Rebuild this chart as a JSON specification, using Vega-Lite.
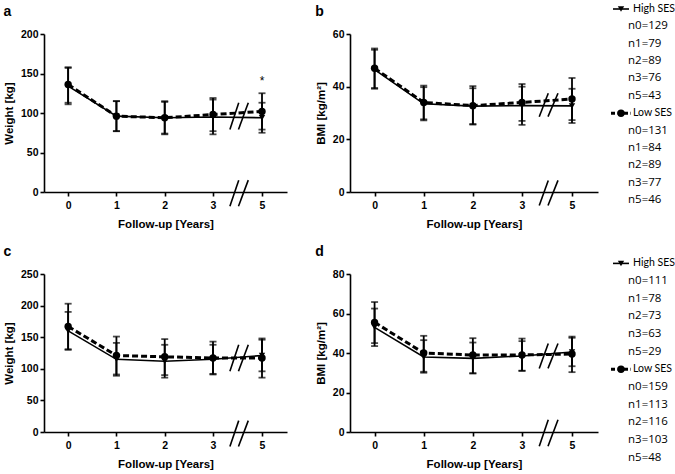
{
 "$schema": "https://vega.github.io/schema/vega-lite/v6.json",
 "background": "white",
 "padding": {"left": 3, "top": 3, "right": 0, "bottom": 0},
 "spacing": 15,
 "datasets": {
  "main": [
   {"panel":"a","ses":"High SES","year":0,"mean":134,"lo":111,"hi":157},
   {"panel":"a","ses":"High SES","year":1,"mean":96,"lo":77,"hi":115},
   {"panel":"a","ses":"High SES","year":2,"mean":94,"lo":73,"hi":115},
   {"panel":"a","ses":"High SES","year":3,"mean":95,"lo":73,"hi":117},
   {"panel":"a","ses":"High SES","year":5,"mean":94,"lo":75,"hi":113},
   {"panel":"a","ses":"Low SES","year":0,"mean":136,"lo":113,"hi":158},
   {"panel":"a","ses":"Low SES","year":1,"mean":96,"lo":77,"hi":115},
   {"panel":"a","ses":"Low SES","year":2,"mean":94,"lo":74,"hi":114},
   {"panel":"a","ses":"Low SES","year":3,"mean":98,"lo":77,"hi":119},
   {"panel":"a","ses":"Low SES","year":5,"mean":102,"lo":79,"hi":125},
   {"panel":"b","ses":"High SES","year":0,"mean":46.5,"lo":39.2,"hi":54},
   {"panel":"b","ses":"High SES","year":1,"mean":33.5,"lo":27.2,"hi":39.8},
   {"panel":"b","ses":"High SES","year":2,"mean":32.6,"lo":25.8,"hi":39.4},
   {"panel":"b","ses":"High SES","year":3,"mean":32.8,"lo":27,"hi":40},
   {"panel":"b","ses":"High SES","year":5,"mean":32.7,"lo":26.2,"hi":39.2},
   {"panel":"b","ses":"Low SES","year":0,"mean":47,"lo":39.5,"hi":54.5},
   {"panel":"b","ses":"Low SES","year":1,"mean":34,"lo":27.6,"hi":40.4},
   {"panel":"b","ses":"Low SES","year":2,"mean":32.8,"lo":25.6,"hi":40.2},
   {"panel":"b","ses":"Low SES","year":3,"mean":34,"lo":25.5,"hi":41},
   {"panel":"b","ses":"Low SES","year":5,"mean":35.3,"lo":27.3,"hi":43.3},
   {"panel":"c","ses":"High SES","year":0,"mean":160,"lo":130,"hi":190},
   {"panel":"c","ses":"High SES","year":1,"mean":115,"lo":89,"hi":141},
   {"panel":"c","ses":"High SES","year":2,"mean":112,"lo":86,"hi":138},
   {"panel":"c","ses":"High SES","year":3,"mean":115,"lo":92,"hi":138},
   {"panel":"c","ses":"High SES","year":5,"mean":121,"lo":96,"hi":146},
   {"panel":"c","ses":"Low SES","year":0,"mean":167,"lo":131,"hi":203},
   {"panel":"c","ses":"Low SES","year":1,"mean":121,"lo":91,"hi":151},
   {"panel":"c","ses":"Low SES","year":2,"mean":119,"lo":90,"hi":147},
   {"panel":"c","ses":"Low SES","year":3,"mean":117,"lo":91,"hi":143},
   {"panel":"c","ses":"Low SES","year":5,"mean":117,"lo":86,"hi":148},
   {"panel":"d","ses":"High SES","year":0,"mean":53,"lo":43.5,"hi":62.5},
   {"panel":"d","ses":"High SES","year":1,"mean":38,"lo":30,"hi":46.5},
   {"panel":"d","ses":"High SES","year":2,"mean":37.3,"lo":29.7,"hi":45.3},
   {"panel":"d","ses":"High SES","year":3,"mean":38.5,"lo":31,"hi":46},
   {"panel":"d","ses":"High SES","year":5,"mean":40.5,"lo":33.3,"hi":47.7},
   {"panel":"d","ses":"Low SES","year":0,"mean":55.5,"lo":45,"hi":65.8},
   {"panel":"d","ses":"Low SES","year":1,"mean":40,"lo":30.5,"hi":48.7},
   {"panel":"d","ses":"Low SES","year":2,"mean":39,"lo":29.7,"hi":47.5},
   {"panel":"d","ses":"Low SES","year":3,"mean":39,"lo":31,"hi":47.3},
   {"panel":"d","ses":"Low SES","year":5,"mean":39.5,"lo":30.3,"hi":48.3}
  ],
  "breaks": [
   {"panel":"a","x0":3.69,"x1":4.05,"y0":79,"y1":113},
   {"panel":"a","x0":4.04,"x1":4.44,"y0":79,"y1":113},
   {"panel":"a","x0":3.69,"x1":4.05,"y0":-18,"y1":15},
   {"panel":"a","x0":4.04,"x1":4.44,"y0":-18,"y1":15},
   {"panel":"b","x0":3.69,"x1":4.05,"y0":28.6,"y1":37.5},
   {"panel":"b","x0":4.04,"x1":4.44,"y0":28.6,"y1":37.5},
   {"panel":"b","x0":3.69,"x1":4.05,"y0":-5.1,"y1":4.4},
   {"panel":"b","x0":4.04,"x1":4.44,"y0":-5.1,"y1":4.4},
   {"panel":"c","x0":3.69,"x1":4.05,"y0":96,"y1":138},
   {"panel":"c","x0":4.04,"x1":4.44,"y0":96,"y1":138},
   {"panel":"c","x0":3.69,"x1":4.05,"y0":-23,"y1":18},
   {"panel":"c","x0":4.04,"x1":4.44,"y0":-23,"y1":18},
   {"panel":"d","x0":3.69,"x1":4.05,"y0":32.2,"y1":44.8},
   {"panel":"d","x0":4.04,"x1":4.44,"y0":32.2,"y1":44.8},
   {"panel":"d","x0":3.69,"x1":4.05,"y0":-7.2,"y1":6.2},
   {"panel":"d","x0":4.04,"x1":4.44,"y0":-7.2,"y1":6.2}
  ],
  "annot": [
   {"panel":"a","year":5,"value":141,"text":"*"}
  ],
  "legend": [
   {"block":"top","row":0,"kind":"header","ses":"High SES","text":"High SES"},
   {"block":"top","row":1,"kind":"count","ses":"High SES","text":"n0=129"},
   {"block":"top","row":2,"kind":"count","ses":"High SES","text":"n1=79"},
   {"block":"top","row":3,"kind":"count","ses":"High SES","text":"n2=89"},
   {"block":"top","row":4,"kind":"count","ses":"High SES","text":"n3=76"},
   {"block":"top","row":5,"kind":"count","ses":"High SES","text":"n5=43"},
   {"block":"top","row":6,"kind":"header","ses":"Low SES","text":"Low SES"},
   {"block":"top","row":7,"kind":"count","ses":"Low SES","text":"n0=131"},
   {"block":"top","row":8,"kind":"count","ses":"Low SES","text":"n1=84"},
   {"block":"top","row":9,"kind":"count","ses":"Low SES","text":"n2=89"},
   {"block":"top","row":10,"kind":"count","ses":"Low SES","text":"n3=77"},
   {"block":"top","row":11,"kind":"count","ses":"Low SES","text":"n5=46"},
   {"block":"bottom","row":0,"kind":"header","ses":"High SES","text":"High SES"},
   {"block":"bottom","row":1,"kind":"count","ses":"High SES","text":"n0=111"},
   {"block":"bottom","row":2,"kind":"count","ses":"High SES","text":"n1=78"},
   {"block":"bottom","row":3,"kind":"count","ses":"High SES","text":"n2=73"},
   {"block":"bottom","row":4,"kind":"count","ses":"High SES","text":"n3=63"},
   {"block":"bottom","row":5,"kind":"count","ses":"High SES","text":"n5=29"},
   {"block":"bottom","row":6,"kind":"header","ses":"Low SES","text":"Low SES"},
   {"block":"bottom","row":7,"kind":"count","ses":"Low SES","text":"n0=159"},
   {"block":"bottom","row":8,"kind":"count","ses":"Low SES","text":"n1=113"},
   {"block":"bottom","row":9,"kind":"count","ses":"Low SES","text":"n2=116"},
   {"block":"bottom","row":10,"kind":"count","ses":"Low SES","text":"n3=103"},
   {"block":"bottom","row":11,"kind":"count","ses":"Low SES","text":"n5=48"}
  ]
 },
 "vconcat": [
  {"bounds": "flush", "spacing": 63, "hconcat": [
   {"width": 243, "height": 158, "title": {"text": "a"},
    "layer": [
     {"data":{"name":"main"},"transform":[{"filter":"datum.panel === 'a'"}],
      "mark":{"type":"rule","color":"#000","strokeWidth":1.8},
      "encoding":{
       "x":{"field":"year","type":"quantitative","title":"Follow-up [Years]","scale":{"domain":[-0.5,3,5,5.5],"range":[0,169,218,243],"nice":false,"zero":false},"axis":{"values":[0,1,2,3,5],"labelOverlap":false}},
       "y":{"field":"lo","type":"quantitative","title":"Weight [kg]","scale":{"domain":[0,200],"nice":false},"axis":{"values":[0,50,100,150,200],"labelOverlap":false,"tickCount":5}},
       "y2":{"field":"hi"}}},
     {"data":{"name":"main"},"transform":[{"filter":"datum.panel === 'a'"}],
      "mark":{"type":"tick","orient":"horizontal","color":"#000","size":7,"thickness":1.8},
      "encoding":{"x":{"field":"year","type":"quantitative","title":"Follow-up [Years]"},"y":{"field":"lo","type":"quantitative","title":"Weight [kg]"}}},
     {"data":{"name":"main"},"transform":[{"filter":"datum.panel === 'a'"}],
      "mark":{"type":"tick","orient":"horizontal","color":"#000","size":7,"thickness":1.8},
      "encoding":{"x":{"field":"year","type":"quantitative","title":"Follow-up [Years]"},"y":{"field":"hi","type":"quantitative","title":"Weight [kg]"}}},
     {"data":{"name":"main"},"transform":[{"filter":"datum.panel === 'a' && datum.ses === 'High SES'"}],
      "mark":{"type":"line","color":"#000","strokeWidth":1.6},
      "encoding":{"x":{"field":"year","type":"quantitative","title":"Follow-up [Years]"},"y":{"field":"mean","type":"quantitative","title":"Weight [kg]"}}},
     {"data":{"name":"main"},"transform":[{"filter":"datum.panel === 'a' && datum.ses === 'Low SES'"}],
      "mark":{"type":"line","color":"#000","strokeWidth":3,"strokeDash":[6,3]},
      "encoding":{"x":{"field":"year","type":"quantitative","title":"Follow-up [Years]"},"y":{"field":"mean","type":"quantitative","title":"Weight [kg]"}}},
     {"data":{"name":"main"},"transform":[{"filter":"datum.panel === 'a' && datum.ses === 'High SES'"}],
      "mark":{"type":"point","shape":"triangle-down","filled":true,"color":"#000","size":40,"opacity":1},
      "encoding":{"x":{"field":"year","type":"quantitative","title":"Follow-up [Years]"},"y":{"field":"mean","type":"quantitative","title":"Weight [kg]"}}},
     {"data":{"name":"main"},"transform":[{"filter":"datum.panel === 'a' && datum.ses === 'Low SES'"}],
      "mark":{"type":"point","shape":"circle","filled":true,"color":"#000","size":55,"opacity":1},
      "encoding":{"x":{"field":"year","type":"quantitative","title":"Follow-up [Years]"},"y":{"field":"mean","type":"quantitative","title":"Weight [kg]"}}},
     {"data":{"name":"breaks"},"transform":[{"filter":"datum.panel === 'a'"}],
      "mark":{"type":"rule","color":"#000","strokeWidth":1.6},
      "encoding":{"x":{"field":"x0","type":"quantitative","title":"Follow-up [Years]"},"x2":{"field":"x1"},"y":{"field":"y0","type":"quantitative","title":"Weight [kg]"},"y2":{"field":"y1"}}},
     {"data":{"name":"annot"},"transform":[{"filter":"datum.panel === 'a'"}],
      "mark":{"type":"text","fontSize":12,"font":"Liberation Sans","fill":"#000","color":"#000","baseline":"middle"},
      "encoding":{"x":{"field":"year","type":"quantitative","title":"Follow-up [Years]"},"y":{"field":"value","type":"quantitative","title":"Weight [kg]"},"text":{"field":"text"}}}
    ]},
   {"bounds": "flush", "spacing": 13, "hconcat": [
    {"width": 248, "height": 158, "title": {"text": "b"},
     "layer": [
      {"data":{"name":"main"},"transform":[{"filter":"datum.panel === 'b'"}],
       "mark":{"type":"rule","color":"#000","strokeWidth":1.8},
       "encoding":{
        "x":{"field":"year","type":"quantitative","title":"Follow-up [Years]","scale":{"domain":[-0.5,3,5,5.5],"range":[0,172,222,248],"nice":false,"zero":false},"axis":{"values":[0,1,2,3,5],"labelOverlap":false}},
        "y":{"field":"lo","type":"quantitative","title":"BMI [kg/m²]","scale":{"domain":[0,60],"nice":false},"axis":{"values":[0,20,40,60],"labelOverlap":false}},
        "y2":{"field":"hi"}}},
      {"data":{"name":"main"},"transform":[{"filter":"datum.panel === 'b'"}],
       "mark":{"type":"tick","orient":"horizontal","color":"#000","size":7,"thickness":1.8},
       "encoding":{"x":{"field":"year","type":"quantitative","title":"Follow-up [Years]"},"y":{"field":"lo","type":"quantitative","title":"BMI [kg/m²]"}}},
      {"data":{"name":"main"},"transform":[{"filter":"datum.panel === 'b'"}],
       "mark":{"type":"tick","orient":"horizontal","color":"#000","size":7,"thickness":1.8},
       "encoding":{"x":{"field":"year","type":"quantitative","title":"Follow-up [Years]"},"y":{"field":"hi","type":"quantitative","title":"BMI [kg/m²]"}}},
      {"data":{"name":"main"},"transform":[{"filter":"datum.panel === 'b' && datum.ses === 'High SES'"}],
       "mark":{"type":"line","color":"#000","strokeWidth":1.6},
       "encoding":{"x":{"field":"year","type":"quantitative","title":"Follow-up [Years]"},"y":{"field":"mean","type":"quantitative","title":"BMI [kg/m²]"}}},
      {"data":{"name":"main"},"transform":[{"filter":"datum.panel === 'b' && datum.ses === 'Low SES'"}],
       "mark":{"type":"line","color":"#000","strokeWidth":3,"strokeDash":[6,3]},
       "encoding":{"x":{"field":"year","type":"quantitative","title":"Follow-up [Years]"},"y":{"field":"mean","type":"quantitative","title":"BMI [kg/m²]"}}},
      {"data":{"name":"main"},"transform":[{"filter":"datum.panel === 'b' && datum.ses === 'High SES'"}],
       "mark":{"type":"point","shape":"triangle-down","filled":true,"color":"#000","size":40,"opacity":1},
       "encoding":{"x":{"field":"year","type":"quantitative","title":"Follow-up [Years]"},"y":{"field":"mean","type":"quantitative","title":"BMI [kg/m²]"}}},
      {"data":{"name":"main"},"transform":[{"filter":"datum.panel === 'b' && datum.ses === 'Low SES'"}],
       "mark":{"type":"point","shape":"circle","filled":true,"color":"#000","size":55,"opacity":1},
       "encoding":{"x":{"field":"year","type":"quantitative","title":"Follow-up [Years]"},"y":{"field":"mean","type":"quantitative","title":"BMI [kg/m²]"}}},
      {"data":{"name":"breaks"},"transform":[{"filter":"datum.panel === 'b'"}],
       "mark":{"type":"rule","color":"#000","strokeWidth":1.6},
       "encoding":{"x":{"field":"x0","type":"quantitative","title":"Follow-up [Years]"},"x2":{"field":"x1"},"y":{"field":"y0","type":"quantitative","title":"BMI [kg/m²]"},"y2":{"field":"y1"}}}
     ]},
    {"width": 65, "height": 158,
     "data": {"name": "legend"},
     "transform": [{"filter": "datum.block === 'top'"}],
     "encoding": {"y": {"field": "row", "type": "quantitative", "scale": {"domain": [1.44, 10.54], "reverse": true, "nice": false, "zero": false}, "axis": null}},
     "layer": [
      {"transform":[{"filter":"datum.kind === 'header' && datum.ses === 'High SES'"}],
       "mark":{"type":"rule","color":"#000","strokeWidth":1.6},
       "encoding":{"x":{"datum":2,"type":"quantitative","scale":{"domain":[0,65],"nice":false,"zero":false},"axis":null},"x2":{"datum":18}}},
      {"transform":[{"filter":"datum.kind === 'header' && datum.ses === 'Low SES'"}],
       "mark":{"type":"rule","color":"#000","strokeWidth":3,"strokeDash":[4,2.5]},
       "encoding":{"x":{"datum":0,"type":"quantitative","scale":{"domain":[0,65],"nice":false,"zero":false},"axis":null},"x2":{"datum":20}}},
      {"transform":[{"filter":"datum.kind === 'header' && datum.ses === 'High SES'"}],
       "mark":{"type":"point","shape":"triangle-down","filled":true,"color":"#000","size":40,"opacity":1},
       "encoding":{"x":{"datum":10,"type":"quantitative","scale":{"domain":[0,65],"nice":false,"zero":false},"axis":null}}},
      {"transform":[{"filter":"datum.kind === 'header' && datum.ses === 'Low SES'"}],
       "mark":{"type":"point","shape":"circle","filled":true,"color":"#000","size":55,"opacity":1},
       "encoding":{"x":{"datum":10,"type":"quantitative","scale":{"domain":[0,65],"nice":false,"zero":false},"axis":null}}},
      {"transform":[{"filter":"datum.kind === 'header'"}],
       "mark":{"type":"text","align":"left","baseline":"middle","font":"Lato","fontSize":10.5,"color":"#000"},
       "encoding":{"x":{"datum":22,"type":"quantitative","scale":{"domain":[0,65],"nice":false,"zero":false},"axis":null},"text":{"field":"text"}}},
      {"transform":[{"filter":"datum.kind === 'count'"}],
       "mark":{"type":"text","align":"left","baseline":"middle","font":"Open Sans","fontSize":11.5,"color":"#000"},
       "encoding":{"x":{"datum":17,"type":"quantitative","scale":{"domain":[0,65],"nice":false,"zero":false},"axis":null},"text":{"field":"text"}}}
     ]}
   ]}
  ]},
  {"bounds": "flush", "spacing": 63, "hconcat": [
   {"width": 243, "height": 158, "title": {"text": "c"},
    "layer": [
     {"data":{"name":"main"},"transform":[{"filter":"datum.panel === 'c'"}],
      "mark":{"type":"rule","color":"#000","strokeWidth":1.8},
      "encoding":{
       "x":{"field":"year","type":"quantitative","title":"Follow-up [Years]","scale":{"domain":[-0.5,3,5,5.5],"range":[0,169,218,243],"nice":false,"zero":false},"axis":{"values":[0,1,2,3,5],"labelOverlap":false}},
       "y":{"field":"lo","type":"quantitative","title":"Weight [kg]","scale":{"domain":[0,250],"nice":false},"axis":{"values":[0,50,100,150,200,250],"labelOverlap":false,"tickCount":6}},
       "y2":{"field":"hi"}}},
     {"data":{"name":"main"},"transform":[{"filter":"datum.panel === 'c'"}],
      "mark":{"type":"tick","orient":"horizontal","color":"#000","size":7,"thickness":1.8},
      "encoding":{"x":{"field":"year","type":"quantitative","title":"Follow-up [Years]"},"y":{"field":"lo","type":"quantitative","title":"Weight [kg]"}}},
     {"data":{"name":"main"},"transform":[{"filter":"datum.panel === 'c'"}],
      "mark":{"type":"tick","orient":"horizontal","color":"#000","size":7,"thickness":1.8},
      "encoding":{"x":{"field":"year","type":"quantitative","title":"Follow-up [Years]"},"y":{"field":"hi","type":"quantitative","title":"Weight [kg]"}}},
     {"data":{"name":"main"},"transform":[{"filter":"datum.panel === 'c' && datum.ses === 'High SES'"}],
      "mark":{"type":"line","color":"#000","strokeWidth":1.6},
      "encoding":{"x":{"field":"year","type":"quantitative","title":"Follow-up [Years]"},"y":{"field":"mean","type":"quantitative","title":"Weight [kg]"}}},
     {"data":{"name":"main"},"transform":[{"filter":"datum.panel === 'c' && datum.ses === 'Low SES'"}],
      "mark":{"type":"line","color":"#000","strokeWidth":3,"strokeDash":[6,3]},
      "encoding":{"x":{"field":"year","type":"quantitative","title":"Follow-up [Years]"},"y":{"field":"mean","type":"quantitative","title":"Weight [kg]"}}},
     {"data":{"name":"main"},"transform":[{"filter":"datum.panel === 'c' && datum.ses === 'High SES'"}],
      "mark":{"type":"point","shape":"triangle-down","filled":true,"color":"#000","size":40,"opacity":1},
      "encoding":{"x":{"field":"year","type":"quantitative","title":"Follow-up [Years]"},"y":{"field":"mean","type":"quantitative","title":"Weight [kg]"}}},
     {"data":{"name":"main"},"transform":[{"filter":"datum.panel === 'c' && datum.ses === 'Low SES'"}],
      "mark":{"type":"point","shape":"circle","filled":true,"color":"#000","size":55,"opacity":1},
      "encoding":{"x":{"field":"year","type":"quantitative","title":"Follow-up [Years]"},"y":{"field":"mean","type":"quantitative","title":"Weight [kg]"}}},
     {"data":{"name":"breaks"},"transform":[{"filter":"datum.panel === 'c'"}],
      "mark":{"type":"rule","color":"#000","strokeWidth":1.6},
      "encoding":{"x":{"field":"x0","type":"quantitative","title":"Follow-up [Years]"},"x2":{"field":"x1"},"y":{"field":"y0","type":"quantitative","title":"Weight [kg]"},"y2":{"field":"y1"}}}
    ]},
   {"bounds": "flush", "spacing": 13, "hconcat": [
    {"width": 248, "height": 158, "title": {"text": "d"},
     "layer": [
      {"data":{"name":"main"},"transform":[{"filter":"datum.panel === 'd'"}],
       "mark":{"type":"rule","color":"#000","strokeWidth":1.8},
       "encoding":{
        "x":{"field":"year","type":"quantitative","title":"Follow-up [Years]","scale":{"domain":[-0.5,3,5,5.5],"range":[0,172,222,248],"nice":false,"zero":false},"axis":{"values":[0,1,2,3,5],"labelOverlap":false}},
        "y":{"field":"lo","type":"quantitative","title":"BMI [kg/m²]","scale":{"domain":[0,80],"nice":false},"axis":{"values":[0,20,40,60,80],"labelOverlap":false,"tickCount":5}},
        "y2":{"field":"hi"}}},
      {"data":{"name":"main"},"transform":[{"filter":"datum.panel === 'd'"}],
       "mark":{"type":"tick","orient":"horizontal","color":"#000","size":7,"thickness":1.8},
       "encoding":{"x":{"field":"year","type":"quantitative","title":"Follow-up [Years]"},"y":{"field":"lo","type":"quantitative","title":"BMI [kg/m²]"}}},
      {"data":{"name":"main"},"transform":[{"filter":"datum.panel === 'd'"}],
       "mark":{"type":"tick","orient":"horizontal","color":"#000","size":7,"thickness":1.8},
       "encoding":{"x":{"field":"year","type":"quantitative","title":"Follow-up [Years]"},"y":{"field":"hi","type":"quantitative","title":"BMI [kg/m²]"}}},
      {"data":{"name":"main"},"transform":[{"filter":"datum.panel === 'd' && datum.ses === 'High SES'"}],
       "mark":{"type":"line","color":"#000","strokeWidth":1.6},
       "encoding":{"x":{"field":"year","type":"quantitative","title":"Follow-up [Years]"},"y":{"field":"mean","type":"quantitative","title":"BMI [kg/m²]"}}},
      {"data":{"name":"main"},"transform":[{"filter":"datum.panel === 'd' && datum.ses === 'Low SES'"}],
       "mark":{"type":"line","color":"#000","strokeWidth":3,"strokeDash":[6,3]},
       "encoding":{"x":{"field":"year","type":"quantitative","title":"Follow-up [Years]"},"y":{"field":"mean","type":"quantitative","title":"BMI [kg/m²]"}}},
      {"data":{"name":"main"},"transform":[{"filter":"datum.panel === 'd' && datum.ses === 'High SES'"}],
       "mark":{"type":"point","shape":"triangle-down","filled":true,"color":"#000","size":40,"opacity":1},
       "encoding":{"x":{"field":"year","type":"quantitative","title":"Follow-up [Years]"},"y":{"field":"mean","type":"quantitative","title":"BMI [kg/m²]"}}},
      {"data":{"name":"main"},"transform":[{"filter":"datum.panel === 'd' && datum.ses === 'Low SES'"}],
       "mark":{"type":"point","shape":"circle","filled":true,"color":"#000","size":55,"opacity":1},
       "encoding":{"x":{"field":"year","type":"quantitative","title":"Follow-up [Years]"},"y":{"field":"mean","type":"quantitative","title":"BMI [kg/m²]"}}},
      {"data":{"name":"breaks"},"transform":[{"filter":"datum.panel === 'd'"}],
       "mark":{"type":"rule","color":"#000","strokeWidth":1.6},
       "encoding":{"x":{"field":"x0","type":"quantitative","title":"Follow-up [Years]"},"x2":{"field":"x1"},"y":{"field":"y0","type":"quantitative","title":"BMI [kg/m²]"},"y2":{"field":"y1"}}}
     ]},
    {"width": 65, "height": 158,
     "data": {"name": "legend"},
     "transform": [{"filter": "datum.block === 'bottom'"}],
     "encoding": {"y": {"field": "row", "type": "quantitative", "scale": {"domain": [0.6, 9.55], "reverse": true, "nice": false, "zero": false}, "axis": null}},
     "layer": [
      {"transform":[{"filter":"datum.kind === 'header' && datum.ses === 'High SES'"}],
       "mark":{"type":"rule","color":"#000","strokeWidth":1.6},
       "encoding":{"x":{"datum":2,"type":"quantitative","scale":{"domain":[0,65],"nice":false,"zero":false},"axis":null},"x2":{"datum":18}}},
      {"transform":[{"filter":"datum.kind === 'header' && datum.ses === 'Low SES'"}],
       "mark":{"type":"rule","color":"#000","strokeWidth":3,"strokeDash":[4,2.5]},
       "encoding":{"x":{"datum":0,"type":"quantitative","scale":{"domain":[0,65],"nice":false,"zero":false},"axis":null},"x2":{"datum":20}}},
      {"transform":[{"filter":"datum.kind === 'header' && datum.ses === 'High SES'"}],
       "mark":{"type":"point","shape":"triangle-down","filled":true,"color":"#000","size":40,"opacity":1},
       "encoding":{"x":{"datum":10,"type":"quantitative","scale":{"domain":[0,65],"nice":false,"zero":false},"axis":null}}},
      {"transform":[{"filter":"datum.kind === 'header' && datum.ses === 'Low SES'"}],
       "mark":{"type":"point","shape":"circle","filled":true,"color":"#000","size":55,"opacity":1},
       "encoding":{"x":{"datum":10,"type":"quantitative","scale":{"domain":[0,65],"nice":false,"zero":false},"axis":null}}},
      {"transform":[{"filter":"datum.kind === 'header'"}],
       "mark":{"type":"text","align":"left","baseline":"middle","font":"Lato","fontSize":10.5,"color":"#000"},
       "encoding":{"x":{"datum":22,"type":"quantitative","scale":{"domain":[0,65],"nice":false,"zero":false},"axis":null},"text":{"field":"text"}}},
      {"transform":[{"filter":"datum.kind === 'count'"}],
       "mark":{"type":"text","align":"left","baseline":"middle","font":"Open Sans","fontSize":11.5,"color":"#000"},
       "encoding":{"x":{"datum":17,"type":"quantitative","scale":{"domain":[0,65],"nice":false,"zero":false},"axis":null},"text":{"field":"text"}}}
     ]}
   ]}
  ]}
 ],
 "config": {
  "view": {"stroke": null},
  "font": "Liberation Sans",
  "axis": {"grid": false, "domainColor": "#000", "domainWidth": 1.6, "tickColor": "#000", "tickWidth": 1.6, "tickSize": 4, "labelOverlap": false,
           "labelColor": "#000", "labelFont": "Liberation Sans", "labelFontSize": 10.5, "labelFontWeight": "bold", "labelPadding": 2,
           "titleColor": "#000", "titleFont": "Liberation Sans", "titleFontSize": 11.5, "titleFontWeight": "bold"},
  "axisX": {"titlePadding": 8, "labelPadding": 4},
  "axisY": {"titlePadding": 6},
  "title": {"anchor": "start", "frame": "bounds", "fontSize": 14, "fontWeight": "bold", "font": "Liberation Sans", "color": "#000", "offset": 10}
 }
}
